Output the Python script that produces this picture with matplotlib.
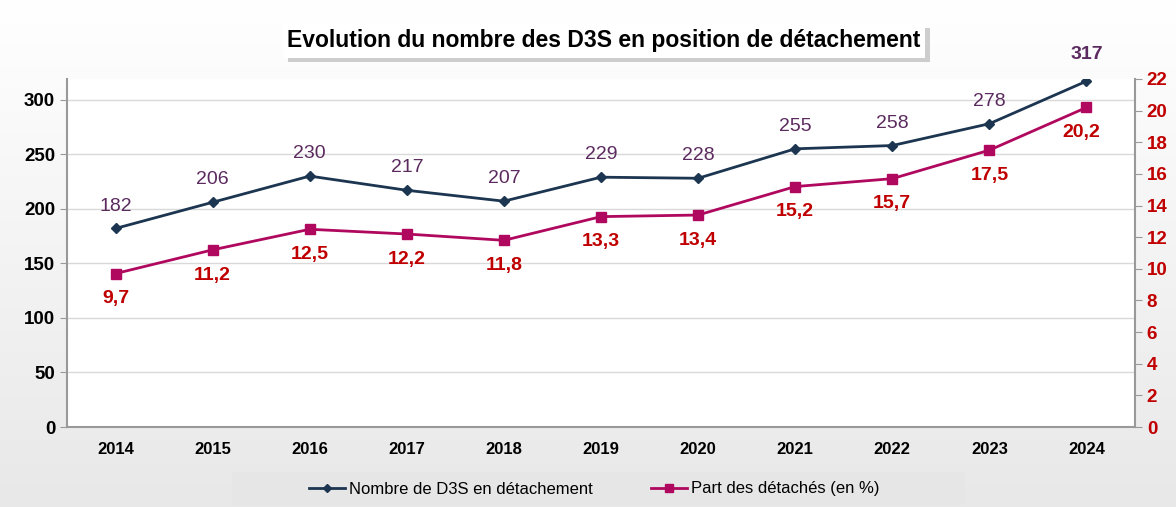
import numpy as np
import matplotlib.pyplot as plt
from matplotlib.patches import Rectangle

plt.rcParams['font.family'] = ['Liberation Sans', 'DejaVu Sans']

# données
annees = ['2014', '2015', '2016', '2017', '2018', '2019', '2020', '2021', '2022', '2023', '2024']
nombre_d3s = [182, 206, 230, 217, 207, 229, 228, 255, 258, 278, 317]
part_detaches = [9.7, 11.2, 12.5, 12.2, 11.8, 13.3, 13.4, 15.2, 15.7, 17.5, 20.2]

navy = '#1c3550'
magenta = '#b0085e'
violet = '#5b2a5e'
rouge = '#c00000'

fig = plt.figure(figsize=(11.76, 5.07), dpi=100)

# fond dégradé gris
grad = np.linspace(1.0, 0.91, 256).reshape(-1, 1)
bg = fig.add_axes([0, 0, 1, 1], zorder=-10)
bg.imshow(np.dstack([grad, grad, grad]), aspect='auto', extent=[0, 1, 0, 1])
bg.axis('off')

ax = fig.add_axes([67 / 1176, 1 - 427 / 507, (1135 - 67) / 1176, (427 - 79) / 507])
ax.set_facecolor('white')
x = np.arange(len(annees))

ax.plot(x, nombre_d3s, color=navy, lw=2, marker='D', ms=5, label='Nombre de D3S en détachement')
ax.set_ylim(0, 319)
ax.set_xlim(-0.5, len(annees) - 0.5)
ax.set_yticks(range(0, 301, 50))
ax.yaxis.grid(True, color='#d9d9d9', lw=1)
ax.set_axisbelow(True)
ax.set_xticks(x)
ax.set_xticklabels(annees, fontsize=12, fontweight='bold')
ax.tick_params(axis='y', labelsize=13.5, colors='#999999', labelcolor='black', length=5)
for lab in ax.get_yticklabels():
    lab.set_fontweight('bold')
ax.tick_params(axis='x', length=0, pad=11)
for s in ['top', 'right']:
    ax.spines[s].set_visible(False)
for s in ['left', 'bottom']:
    ax.spines[s].set_color('#999999')
    ax.spines[s].set_linewidth(1.5)

ax2 = ax.twinx()
ax2.plot(x, part_detaches, color=magenta, lw=2, marker='s', ms=7, label='Part des détachés (en %)')
ax2.set_ylim(0, 22)
ax2.set_yticks(range(0, 23, 2))
ax2.tick_params(axis='y', labelsize=13.5, colors='#999999', labelcolor=rouge, length=5)
for lab in ax2.get_yticklabels():
    lab.set_fontweight('bold')
for s in ['top', 'left', 'bottom']:
    ax2.spines[s].set_visible(False)
ax2.spines['right'].set_color('#999999')
ax2.spines['right'].set_linewidth(1.5)

# étiquettes de données
for i, v in enumerate(nombre_d3s):
    gras = 'bold' if i == len(nombre_d3s) - 1 else 'normal'
    dy = 13 if i == len(nombre_d3s) - 1 else 10
    ax.annotate(str(v), (i, v), xytext=(0, dy), textcoords='offset points',
                ha='center', va='bottom', fontsize=14, color=violet, fontweight=gras)
for i, v in enumerate(part_detaches):
    dx = -4 if i == len(part_detaches) - 1 else 0
    ax2.annotate(f'{v:.1f}'.replace('.', ','), (i, v), xytext=(dx, -12), textcoords='offset points',
                 ha='center', va='top', fontsize=14, color=rouge, fontweight='bold')

# titre avec ombre
fig.patches.append(Rectangle((288 / 1176, 1 - 62 / 507), 642 / 1176, 34 / 507,
                             transform=fig.transFigure, fc='#a0a0a0', ec='none', alpha=0.5, zorder=0))
fig.patches.append(Rectangle((283 / 1176, 1 - 58 / 507), 642 / 1176, 34 / 507,
                             transform=fig.transFigure, fc='white', ec='none', zorder=1))
fig.text(604 / 1176, 1 - 41 / 507, 'Evolution du nombre des D3S en position de détachement',
         ha='center', va='center', fontsize=16.5, fontweight='bold', color='black', zorder=2)

# légende
fig.patches.append(Rectangle((232 / 1176, 2 / 507), (965 - 232) / 1176, 33 / 507,
                             transform=fig.transFigure, fc='#e6e6e6', ec='none', zorder=0))
h1, l1 = ax.get_legend_handles_labels()
h2, l2 = ax2.get_legend_handles_labels()
fig.legend(h1 + h2, l1 + l2, loc='center', bbox_to_anchor=(594 / 1176, 1 - 489 / 507),
           ncol=2, frameon=False, handlelength=2.2, handletextpad=0.2,
           columnspacing=3.5, markerscale=0.8, prop={'size': 12})

fig.savefig('out.png', dpi=100)
